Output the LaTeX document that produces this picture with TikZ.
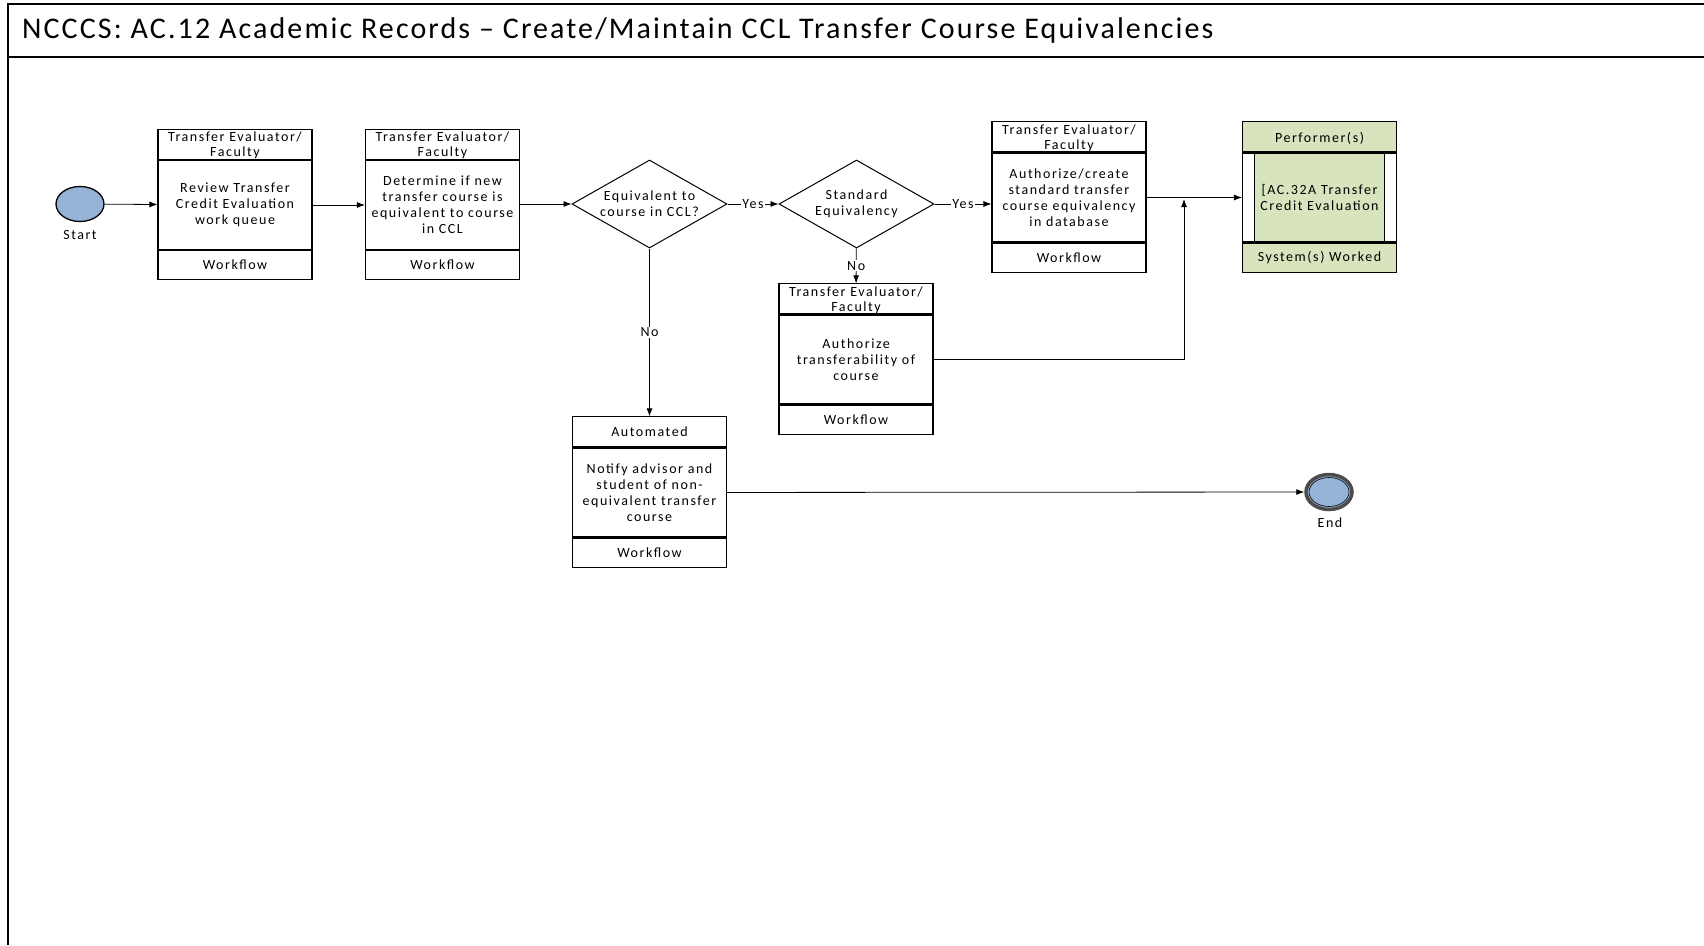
\documentclass[tikz,border=0pt]{standalone}
\usepackage{fontspec}
\setmainfont{Carlito}[LetterSpace=11]
\newfontfamily\titlefont{Carlito}[LetterSpace=7]
\usetikzlibrary{arrows.meta,shapes.geometric}
\definecolor{evblue}{RGB}{149,179,215}
\definecolor{perfgreen}{RGB}{215,228,189}
\begin{document}
\begin{tikzpicture}[x=1pt,y=-1pt,>={Latex[length=8pt,width=6pt]},
  txt/.style={font=\fontsize{14}{16}\selectfont},
  hd/.style={draw, line width=1.1pt, minimum width=154pt, minimum height=30pt, inner sep=0pt, align=center, text depth=0pt, font=\fontsize{14}{15}\selectfont},
  bd/.style={draw, line width=1.1pt, minimum width=154pt, minimum height=89pt, inner sep=0pt, align=center, txt},
  ft/.style={draw, line width=1.1pt, minimum width=154pt, minimum height=29pt, inner sep=0pt, align=center, txt},
  dec/.style={diamond, draw, line width=1pt, minimum width=155pt, minimum height=88pt, aspect=1.76, inner sep=0pt, align=center, txt},
  lbl/.style={fill=white, inner sep=1pt, txt},
  link/.style={line width=0.8pt}]
\useasboundingbox (0,0) rectangle (1704,945);
\draw[line width=1.8pt] (8,945) -- (8,4) -- (1704,4);
\draw[line width=1.5pt] (8,57) -- (1704,57);
\node[anchor=west, inner sep=0pt, font=\titlefont\fontsize{30}{32}\selectfont] (title) at (22,31) {NCCCS: AC.12 Academic Records – Create/Maintain CCL Transfer Course Equivalencies};
\node[ellipse, draw, line width=1.3pt, fill=evblue, minimum width=48pt, minimum height=35pt] (start) at (80,204) {};
\node[txt] (startlbl) at (80,235) {Start};
\node[bd] (bd1) at (235,205) {Review Transfer\\Credit Evaluation\\work queue};
\node[hd, anchor=south] (hd1) at (bd1.north) {Transfer Evaluator/\\Faculty};
\node[ft, anchor=north] (ft1) at (bd1.south) {Workflow};
\node[bd] (bd2) at (442.5,205) {Determine if new\\transfer course is\\equivalent to course\\in CCL};
\node[hd, anchor=south] (hd2) at (bd2.north) {Transfer Evaluator/\\Faculty};
\node[ft, anchor=north] (ft2) at (bd2.south) {Workflow};
\node[dec] (dia1) at (649.5,204) {Equivalent to\\course in CCL?};
\node[dec] (dia2) at (856.5,204) {Standard\\Equivalency};
\node[bd] (bd3) at (1069,197.5) {Authorize/create\\standard transfer\\course equivalency\\in database};
\node[hd, anchor=south] (hd3) at (bd3.north) {Transfer Evaluator/\\Faculty};
\node[ft, anchor=north] (ft3) at (bd3.south) {Workflow};
\node[bd] (bd4) at (856,359.5) {Authorize\\transferability of\\course};
\node[hd, anchor=south] (hd4) at (bd4.north) {Transfer Evaluator/\\Faculty};
\node[ft, anchor=north] (ft4) at (bd4.south) {Workflow};
\node[bd] (bd5) at (649.5,492.5) {Notify advisor and\\student of non-\\equivalent transfer\\course};
\node[hd, anchor=south] (hd5) at (bd5.north) {Automated};
\node[ft, anchor=north] (ft5) at (bd5.south) {Workflow};
\node[bd] (pbd) at (1319.5,197.5) {};
\node[bd, fill=perfgreen, minimum width=130pt] (pin) at (pbd) {[AC.32A Transfer\\Credit Evaluation};
\node[hd, anchor=south, fill=perfgreen] (phd) at (pbd.north) {Performer(s)};
\node[ft, anchor=north, fill=perfgreen] (pft) at (pbd.south) {System(s) Worked};
\node[ellipse, draw=black!70, line width=3.5pt, fill=evblue, minimum width=46pt, minimum height=35pt] (end) at (1329,492) {};
\node[ellipse, draw, line width=0.6pt, minimum width=40pt, minimum height=29pt] (endin) at (end) {};
\node[txt] (endlbl) at (1330,523) {End};
\coordinate (jn) at (1184,199);
\draw[link, ->] (start) -- (bd1);
\draw[link, ->] (bd1) -- (bd2);
\draw[link, ->] (bd2.east |- dia1) -- (dia1);
\draw[link, ->] (dia1) -- node[lbl] {Yes} (dia2);
\draw[link, ->] (dia2.east) -- node[lbl] {Yes} (dia2.east -| bd3.west);
\draw[link, ->] (bd3) -- (pbd);
\draw[link, ->] (dia2) -- node[lbl] {No} (hd4);
\draw[link, ->] (dia1) -- node[lbl] {No} (hd5);
\draw[link, ->] (bd4) -| (jn);
\draw[link, ->] (bd5) -- (end);
\end{tikzpicture}
\end{document}
